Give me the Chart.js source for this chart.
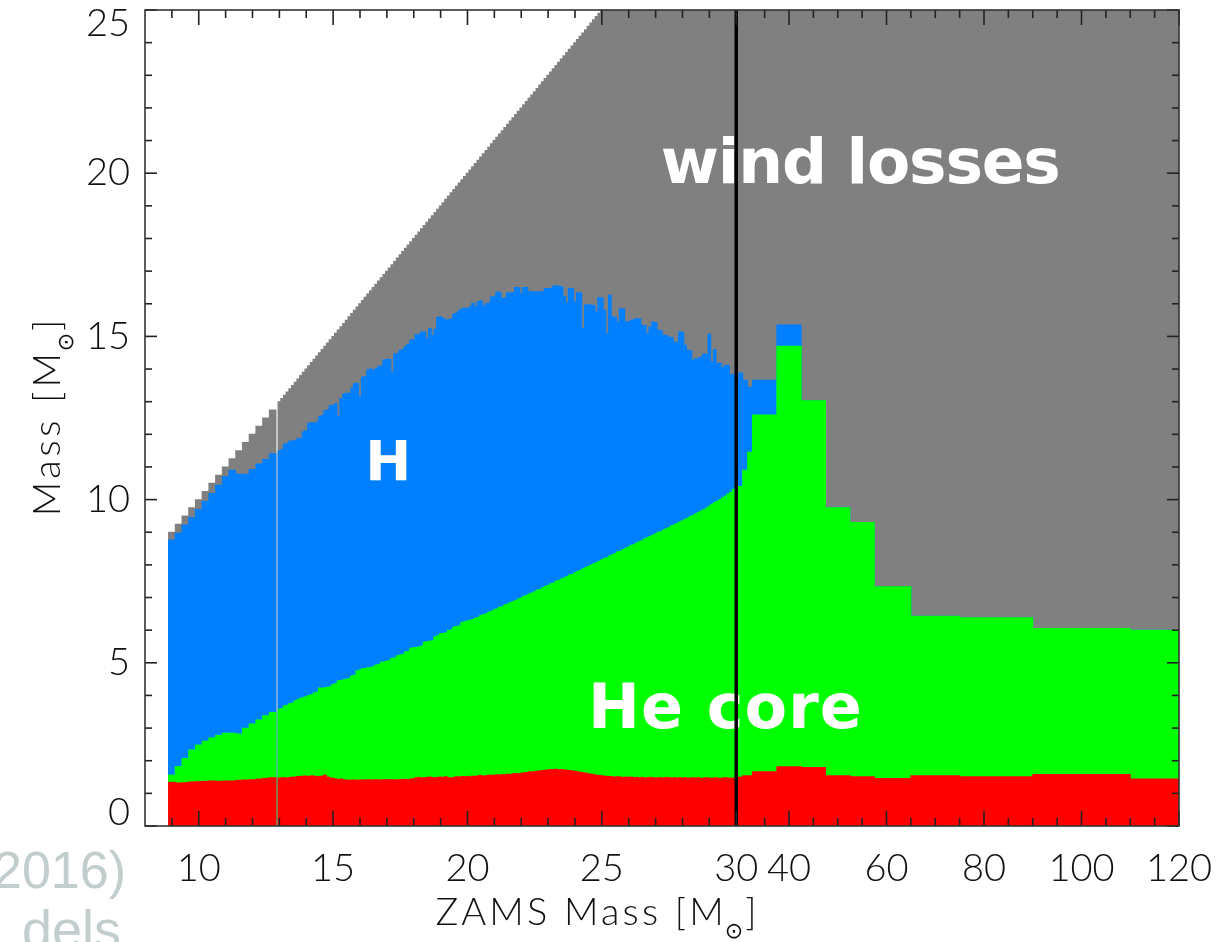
<!DOCTYPE html>
<html lang="en">
<head>
<meta charset="utf-8">
<title>ZAMS mass vs final composition</title>
<script src="https://cdn.jsdelivr.net/npm/chart.js@4.4.1/dist/chart.umd.min.js"></script>
<style>
  html, body { margin: 0; padding: 0; background: #fff; }
  #quadro { position: relative; width: 1226px; height: 942px; overflow: hidden; }
  #grafico { position: absolute; left: 0; top: 0; }
  .slide {
    position: absolute;
    color: #c2cdcd;
    font-family: 'Liberation Sans', Arial, sans-serif;
    font-size: 52px;
    line-height: 52px;
    white-space: nowrap;
  }
</style>
</head>
<body>
<div id="quadro">
  <div class="slide" style="left:-7px; top:844px;">2016)</div>
  <div class="slide" style="left:22px; top:903px; font-size:54px;">dels</div>
  <canvas id="grafico" width="1226" height="942"></canvas>
</div>
<script>
// Grades de modelos (massa ZAMS em M☉)
const massaA = [9.0, 9.25, 9.5, 9.75, 10.0, 10.25, 10.5, 10.75, 11.0, 11.25, 11.5, 11.75, 12.0, 12.25, 12.5, 12.75];
// de 13 a 30 os modelos vêm a cada 0,1 M☉
const massaB = Array.from({ length: 171 }, (_, i) => (130 + i) / 10);
const massaC = [30, 31, 32, 33, 35, 40, 45, 50, 55, 60, 70, 80, 100, 120];

// Massa final da estrela (topo do envelope de H)
const finalA = [8.76, 8.97, 9.22, 9.45, 9.70, 9.94, 10.19, 10.44, 10.70, 10.90, 10.78, 10.78, 10.92, 11.09, 11.23, 11.41];
const finalB = [
  11.50, 11.54, 11.70, 11.73, 11.80, 11.79, 11.82, 11.87, 11.88, 12.08,
  12.12, 12.33, 12.36, 12.35, 12.38, 12.55, 12.58, 12.72, 12.75, 12.88,
  12.90, 12.94, 12.56, 13.10, 13.24, 13.26, 13.25, 13.41, 13.55, 13.57,
  13.15, 13.75, 13.77, 13.98, 14.00, 13.97, 14.00, 14.08, 14.10, 14.28,
  14.30, 14.29, 13.90, 14.46, 14.48, 14.58, 14.60, 14.70, 14.76, 14.88,
  14.90, 15.06, 15.07, 15.14, 15.14, 14.95, 15.24, 15.02, 15.22, 15.58,
  15.60, 15.55, 15.50, 15.52, 15.53, 15.68, 15.72, 15.80, 15.84, 15.87,
  15.86, 15.90, 16.02, 15.90, 16.06, 16.09, 15.93, 16.00, 16.02, 16.21,
  16.22, 16.36, 16.35, 16.16, 16.18, 16.34, 16.33, 16.35, 16.50, 16.49,
  16.31, 16.50, 16.50, 16.37, 16.38, 16.36, 16.36, 16.37, 16.36, 16.47,
  16.47, 16.46, 16.54, 16.55, 16.54, 16.53, 16.23, 16.03, 16.47, 16.46,
  16.06, 16.34, 16.33, 15.24, 15.96, 15.97, 15.96, 15.95, 15.75, 16.19,
  16.18, 15.80, 15.09, 16.26, 15.60, 15.58, 15.44, 15.85, 15.84, 15.44,
  15.45, 15.50, 15.51, 15.55, 15.54, 15.34, 15.33, 15.09, 15.29, 15.44,
  15.43, 15.19, 15.18, 15.04, 15.03, 14.98, 14.97, 14.83, 14.82, 15.14,
  15.13, 14.73, 14.58, 14.57, 14.27, 14.32, 14.33, 14.37, 14.46, 14.45,
  15.07, 14.22, 14.60, 14.17, 14.18, 14.05, 14.12, 14.11, 13.81, 13.84,
  13.86
];
const finalC = [13.88, 13.66, 13.44, 13.66, 13.66, 15.35, 13.03, 9.75, 9.30, 7.33, 6.43, 6.38, 6.05, 6.00];

// Núcleo de He
const heliumA = [1.56, 1.82, 2.07, 2.33, 2.48, 2.60, 2.70, 2.78, 2.84, 2.84, 2.82, 3.00, 3.13, 3.25, 3.38, 3.48];
const heliumB = [
  3.58, 3.60, 3.68, 3.70, 3.75, 3.77, 3.84, 3.87, 3.92, 3.94,
  3.96, 4.00, 4.02, 4.08, 4.10, 4.23, 4.22, 4.24, 4.25, 4.27,
  4.34, 4.36, 4.45, 4.46, 4.48, 4.50, 4.52, 4.60, 4.62, 4.76,
  4.78, 4.82, 4.83, 4.85, 4.86, 4.88, 4.93, 4.95, 5.02, 5.03,
  5.05, 5.07, 5.14, 5.15, 5.22, 5.24, 5.26, 5.33, 5.35, 5.45,
  5.46, 5.47, 5.49, 5.52, 5.63, 5.65, 5.66, 5.68, 5.80, 5.83,
  5.89, 5.90, 5.92, 5.99, 6.01, 6.09, 6.11, 6.13, 6.24, 6.26,
  6.28, 6.30, 6.33, 6.37, 6.39, 6.45, 6.47, 6.50, 6.55, 6.58,
  6.63, 6.65, 6.70, 6.72, 6.78, 6.80, 6.85, 6.88, 6.91, 6.96,
  6.99, 7.04, 7.06, 7.11, 7.14, 7.18, 7.23, 7.25, 7.30, 7.34,
  7.37, 7.42, 7.44, 7.50, 7.52, 7.57, 7.60, 7.64, 7.69, 7.71,
  7.76, 7.80, 7.83, 7.88, 7.91, 7.95, 8.00, 8.03, 8.07, 8.11,
  8.15, 8.20, 8.22, 8.27, 8.31, 8.35, 8.40, 8.42, 8.47, 8.51,
  8.55, 8.60, 8.62, 8.67, 8.71, 8.74, 8.80, 8.83, 8.87, 8.91,
  8.95, 9.00, 9.02, 9.07, 9.11, 9.14, 9.20, 9.22, 9.27, 9.31,
  9.35, 9.40, 9.43, 9.48, 9.52, 9.56, 9.61, 9.65, 9.69, 9.74,
  9.80, 9.86, 9.91, 9.95, 10.00, 10.06, 10.11, 10.17, 10.23, 10.31,
  10.38
];
const heliumC = [10.40, 10.90, 11.45, 12.59, 12.59, 14.70, 13.03, 9.75, 9.30, 7.33, 6.43, 6.38, 6.05, 6.00];

// Remanescente (núcleo de ferro)
const nucleoA = [1.34, 1.32, 1.33, 1.35, 1.36, 1.37, 1.38, 1.37, 1.38, 1.38, 1.40, 1.41, 1.42, 1.44, 1.46, 1.48];
const nucleoB = [
  1.47, 1.48, 1.48, 1.47, 1.49, 1.50, 1.50, 1.52, 1.52, 1.53,
  1.53, 1.52, 1.54, 1.53, 1.51, 1.52, 1.53, 1.56, 1.50, 1.47,
  1.46, 1.44, 1.43, 1.44, 1.42, 1.41, 1.40, 1.41, 1.41, 1.40,
  1.41, 1.41, 1.41, 1.42, 1.41, 1.41, 1.42, 1.41, 1.41, 1.42,
  1.42, 1.42, 1.42, 1.41, 1.42, 1.42, 1.43, 1.43, 1.42, 1.44,
  1.45, 1.48, 1.49, 1.47, 1.48, 1.49, 1.50, 1.48, 1.48, 1.49,
  1.50, 1.49, 1.51, 1.48, 1.47, 1.49, 1.51, 1.50, 1.52, 1.51,
  1.52, 1.51, 1.53, 1.52, 1.54, 1.55, 1.53, 1.54, 1.56, 1.55,
  1.56, 1.57, 1.56, 1.58, 1.57, 1.59, 1.58, 1.60, 1.61, 1.60,
  1.62, 1.63, 1.64, 1.66, 1.65, 1.67, 1.68, 1.69, 1.70, 1.71,
  1.72, 1.73, 1.73, 1.74, 1.72, 1.73, 1.72, 1.71, 1.70, 1.69,
  1.68, 1.66, 1.65, 1.63, 1.62, 1.60, 1.59, 1.57, 1.56, 1.55,
  1.54, 1.53, 1.52, 1.52, 1.51, 1.50, 1.51, 1.50, 1.49, 1.50,
  1.49, 1.50, 1.48, 1.49, 1.48, 1.49, 1.47, 1.48, 1.49, 1.48,
  1.47, 1.48, 1.48, 1.47, 1.49, 1.48, 1.47, 1.48, 1.47, 1.48,
  1.47, 1.48, 1.46, 1.47, 1.48, 1.47, 1.48, 1.46, 1.47, 1.48,
  1.47, 1.46, 1.48, 1.47, 1.46, 1.47, 1.48, 1.47, 1.46, 1.47,
  1.48
];
const nucleoC = [1.50, 1.54, 1.54, 1.66, 1.66, 1.82, 1.79, 1.54, 1.51, 1.46, 1.54, 1.51, 1.58, 1.44];

// Eixos
const rotulosX = [10, 15, 20, 25, 30, 40, 60, 80, 100, 120];
const ticksMenoresX = [9, 11, 12, 13, 14, 16, 17, 18, 19, 21, 22, 23, 24, 26, 27, 28, 29,
  35, 45, 50, 55, 65, 70, 75, 85, 90, 95, 105, 110, 115];
const rotulosY = [0, 5, 10, 15, 20, 25];

// Textos dentro do gráfico
const rotulosRegioes = [
  { texto: 'wind losses', massa: 54.6, altura: 19.7, tamanho: 63, largura: 400 },
  { texto: 'H', massa: 17.05, altura: 10.6, tamanho: 55, largura: 45 },
  { texto: 'He core', massa: 29.6, altura: 3.0, tamanho: 62, largura: 274 },
];

// Até 30 M☉ o eixo é linear; depois disso cada M☉ ocupa bem menos espaço
const ESCALA_DIREITA = 0.1814;
const INICIO_DIREITA = 30.15;

function posicaoX(m, lado) {
  if (lado === 'esq' || (lado === undefined && m <= 30)) return m;
  return INICIO_DIREITA + (m - 30) * ESCALA_DIREITA;
}

const grades = [
  { massas: massaA, lado: 'esq' },
  { massas: massaB, lado: 'esq' },
  { massas: massaC, lado: 'dir' },
];

// a primeira camada fica por cima
const camadas = [
  { nome: 'Fe core', cor: '#ff0000', series: [nucleoA, nucleoB, nucleoC] },
  { nome: 'He core', cor: '#00ff00', series: [heliumA, heliumB, heliumC] },
  { nome: 'H envelope', cor: '#0080ff', series: [finalA, finalB, finalC] },
  { nome: 'wind losses', cor: '#808080', series: [massaA, massaB, massaC] },
];

const datasets = [];
camadas.forEach(c => {
  grades.forEach((g, i) => {
    datasets.push({
      label: c.nome,
      data: g.massas.map((m, j) => ({ x: posicaoX(m, g.lado), y: c.series[i][j] })),
      backgroundColor: c.cor,
      borderWidth: 0,
      stack: 'modelos',
      barThickness: 'flex',
      categoryPercentage: 1,
      barPercentage: 1,
      inflateAmount: 0.45,
    });
  });
});

const FONTE_EIXO = 'Lato, "Liberation Sans", sans-serif';

function linha(ctx, x1, y1, x2, y2) {
  ctx.beginPath();
  ctx.moveTo(x1, y1);
  ctx.lineTo(x2, y2);
  ctx.stroke();
}

function ajustarEspaco(ctx, texto, largura) {
  ctx.letterSpacing = '0px';
  const natural = ctx.measureText(texto).width;
  const sp = texto.length > 1 ? (largura - natural) / (texto.length - 1) : 0;
  ctx.letterSpacing = sp.toFixed(2) + 'px';
}

// escreve "prefixo [M⊙]" centralizado na origem, com o ⊙ subscrito
function tituloComSol(ctx, prefixo, largura) {
  const fonte = '300 38px ' + FONTE_EIXO;
  const fonteSol = '22px "DejaVu Sans", sans-serif';
  ctx.textAlign = 'left';
  ctx.textBaseline = 'alphabetic';
  ctx.letterSpacing = '0px';
  ctx.font = fonteSol;
  const w2 = ctx.measureText('⊙').width;
  ctx.font = fonte;
  const w3 = ctx.measureText(']').width;
  ajustarEspaco(ctx, prefixo + '[M', largura - w2 - w3);
  const w1 = ctx.measureText(prefixo + '[M').width;
  let x = -(w1 + w2 + w3) / 2;
  ctx.fillText(prefixo + '[M', x, 0);
  x += w1;
  ctx.letterSpacing = '0px';
  ctx.font = fonteSol;
  ctx.fillText('⊙', x - 2, 13);
  x += w2;
  ctx.font = fonte;
  ctx.fillText(']', x, 0);
}

const pluginMoldura = {
  id: 'moldura',
  afterDatasetsDraw(chart) {
    const { ctx, chartArea: a, scales: { x, y } } = chart;
    ctx.save();

    // rótulos das regiões
    ctx.fillStyle = '#fff';
    ctx.textAlign = 'center';
    ctx.textBaseline = 'alphabetic';
    rotulosRegioes.forEach(r => {
      ctx.font = 'bold ' + r.tamanho + 'px "DejaVu Sans", sans-serif';
      ajustarEspaco(ctx, r.texto, r.largura);
      ctx.fillText(r.texto, x.getPixelForValue(posicaoX(r.massa)), y.getPixelForValue(r.altura));
    });
    ctx.letterSpacing = '0px';

    // linha que separa as duas escalas em 30 M☉
    const x30 = x.getPixelForValue(30);
    ctx.strokeStyle = '#000';
    ctx.lineWidth = 3.5;
    linha(ctx, x30, a.top, x30, a.bottom);

    // marcas para dentro nos quatro lados
    ctx.strokeStyle = '#222';
    ctx.lineWidth = 1.6;
    const marcaX = (m, comp) => {
      const px = x.getPixelForValue(posicaoX(m));
      linha(ctx, px, a.bottom, px, a.bottom - comp);
      linha(ctx, px, a.top, px, a.top + comp);
    };
    rotulosX.forEach(m => marcaX(m, 15));
    ticksMenoresX.forEach(m => marcaX(m, 8));
    for (let v = 0; v <= 25; v++) {
      const comp = rotulosY.includes(v) ? 12 : 7;
      const py = y.getPixelForValue(v);
      linha(ctx, a.left, py, a.left + comp, py);
      linha(ctx, a.right, py, a.right - comp, py);
    }

    ctx.strokeStyle = '#333';
    ctx.lineWidth = 1.6;
    ctx.strokeRect(a.left, a.top, a.right - a.left, a.bottom - a.top);

    // títulos dos eixos
    ctx.fillStyle = '#111';
    ctx.save();
    ctx.translate(596, 925);
    tituloComSol(ctx, 'ZAMS Mass ', 318);
    ctx.restore();

    ctx.save();
    ctx.translate(60, 418);
    ctx.rotate(-Math.PI / 2);
    tituloComSol(ctx, 'Mass ', 193);
    ctx.restore();

    ctx.restore();
  }
};

const grafico = new Chart(document.getElementById('grafico'), {
  type: 'bar',
  data: { datasets },
  options: {
    responsive: false,
    animation: false,
    devicePixelRatio: 1,
    layout: { padding: { left: 0, top: 10, right: 47, bottom: 0 } },
    plugins: {
      legend: { display: false },
      tooltip: { enabled: false },
    },
    scales: {
      x: {
        type: 'linear',
        min: 8,
        max: posicaoX(120, 'dir'),
        offset: false,
        grid: { display: false, drawTicks: false },
        border: { display: false },
        afterBuildTicks: eixo => {
          eixo.ticks = rotulosX.map(m => ({ value: posicaoX(m) }));
        },
        afterFit: eixo => {
          eixo.height = 116;
          eixo.paddingLeft = 0;
          eixo.paddingRight = 0;
        },
        ticks: {
          autoSkip: false,
          maxRotation: 0,
          minRotation: 0,
          padding: 20,
          color: '#111',
          font: { family: FONTE_EIXO, size: 38, weight: '300' },
          callback: (valor, i) => String(rotulosX[i]),
        },
      },
      y: {
        min: 0,
        max: 25,
        stacked: false,
        grid: { display: false, drawTicks: false },
        border: { display: false },
        afterFit: eixo => {
          eixo.width = 145;
          eixo.paddingTop = 0;
          eixo.paddingBottom = 0;
        },
        ticks: {
          stepSize: 5,
          padding: 15,
          color: '#111',
          font: { family: FONTE_EIXO, size: 38, weight: '300', lineHeight: 0.72 },
          // o 25 e o 0 ficam deslocados para dentro da altura do quadro
          callback: v => v === 25 ? ['', '25'] : v === 0 ? ['0', ''] : String(v),
        },
      },
    },
  },
  plugins: [pluginMoldura],
});
</script>
</body>
</html>
